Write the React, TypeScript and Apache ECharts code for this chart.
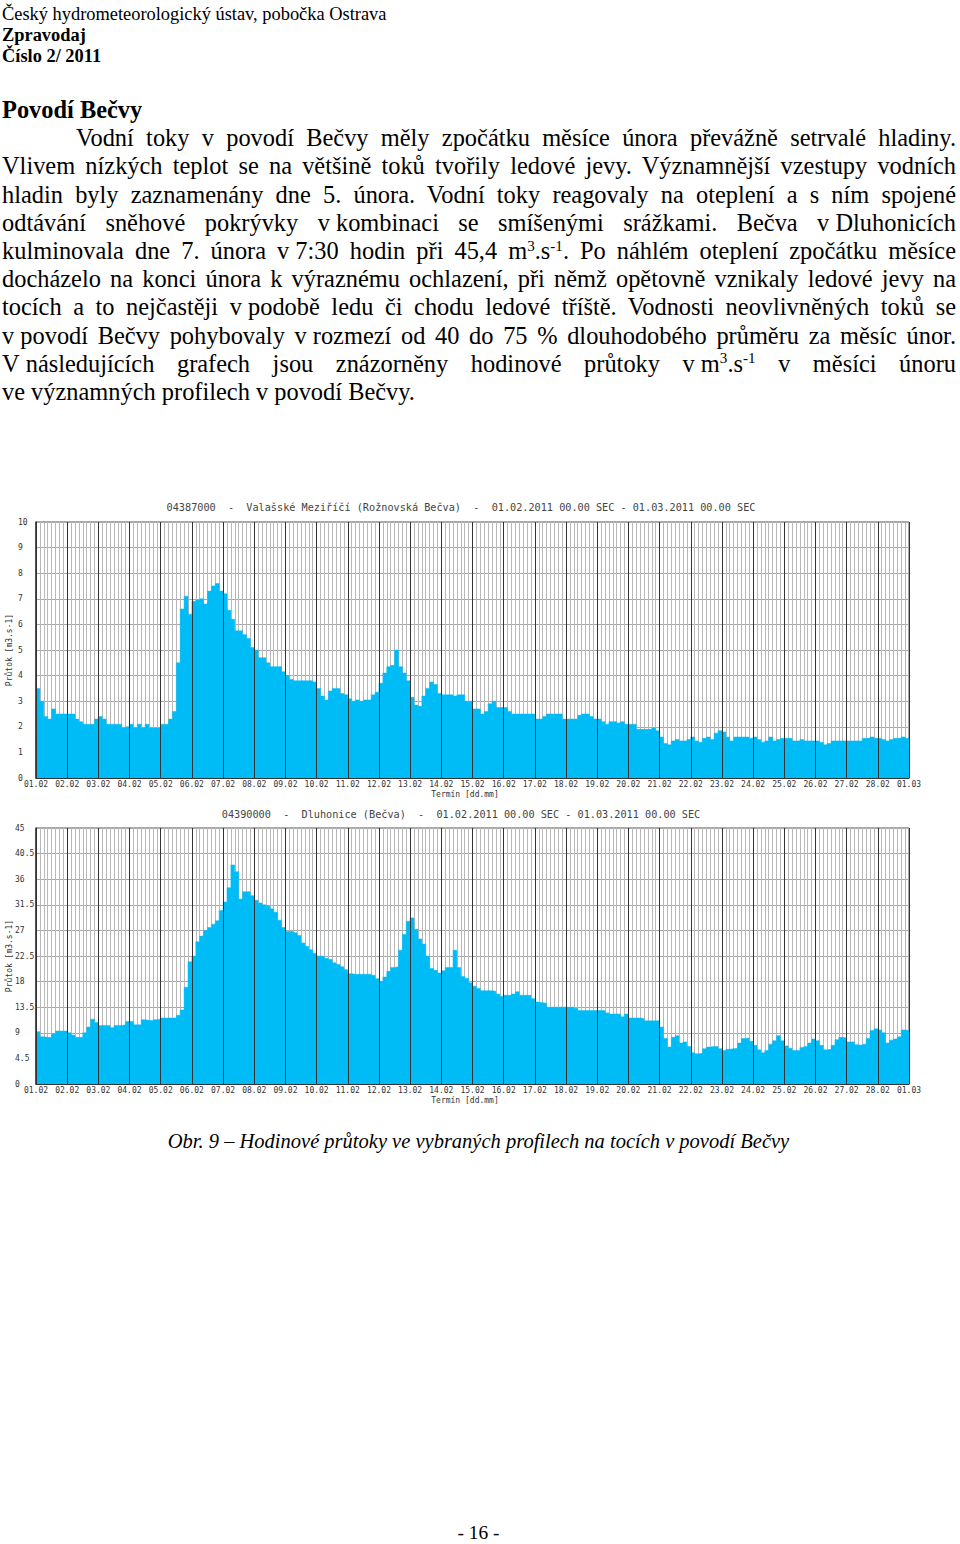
import React, { useEffect, useRef } from "react";
import * as echarts from "echarts";

const DAY_LABELS = [
  "01.02", "02.02", "03.02", "04.02", "05.02", "06.02", "07.02", "08.02", "09.02", "10.02",
  "11.02", "12.02", "13.02", "14.02", "15.02", "16.02", "17.02", "18.02", "19.02", "20.02",
  "21.02", "22.02", "23.02", "24.02", "25.02", "26.02", "27.02", "28.02", "01.03",
];

// 3-hourly discharge, Valašské Meziříčí (Rožnovská Bečva), m3/s
const VM_FLOW = [
  3.5, 3.0, 2.4, 2.3, 2.7, 2.5, 2.5, 2.5,
  2.5, 2.5, 2.3, 2.2, 2.1, 2.1, 2.1, 2.3,
  2.4, 2.3, 2.1, 2.1, 2.1, 2.1, 1.95, 2.0,
  2.1, 1.95, 2.1, 1.95, 2.1, 1.95, 1.95, 1.95,
  2.1, 2.1, 2.3, 2.6, 4.5, 6.6, 7.1, 6.4,
  6.9, 6.95, 7.0, 6.8, 7.3, 7.5, 7.6, 7.3,
  7.2, 6.55, 6.2, 5.75, 5.75, 5.6, 5.45, 5.1,
  5.0, 4.7, 4.7, 4.5, 4.35, 4.35, 4.35, 4.15,
  4.0, 3.85, 3.8, 3.8, 3.8, 3.8, 3.8, 3.75,
  3.5, 3.2, 3.05, 3.4, 3.5, 3.5, 3.3, 3.25,
  3.1, 3.0, 3.05, 3.0, 3.05, 3.05, 3.25, 3.35,
  3.7, 4.1, 4.35, 4.4, 5.0, 4.35, 4.1, 3.8,
  3.15, 2.85, 2.8, 3.2, 3.5, 3.75, 3.65, 3.3,
  3.25, 3.25, 3.25, 3.2, 3.25, 3.25, 3.0, 3.0,
  2.7, 2.7, 2.5, 2.6, 2.9, 3.0, 2.75, 2.75,
  2.75, 2.6, 2.5, 2.5, 2.5, 2.5, 2.5, 2.5,
  2.3, 2.3, 2.4, 2.5, 2.5, 2.5, 2.5, 2.3,
  2.3, 2.3, 2.3, 2.45, 2.5, 2.5, 2.4, 2.3,
  2.3, 2.2, 2.1, 2.2, 2.2, 2.15, 2.2, 2.1,
  2.1, 2.1, 1.9, 1.9, 1.9, 1.9, 1.95, 1.85,
  1.6, 1.35, 1.3, 1.45, 1.5, 1.45, 1.45, 1.5,
  1.6, 1.45, 1.4, 1.55, 1.6, 1.5, 1.75, 1.85,
  1.8, 1.6, 1.45, 1.6, 1.6, 1.6, 1.6, 1.55,
  1.6, 1.5, 1.4, 1.45, 1.6, 1.45, 1.5, 1.55,
  1.55, 1.55, 1.45, 1.45, 1.5, 1.45, 1.45, 1.45,
  1.45, 1.4, 1.3, 1.35, 1.45, 1.45, 1.45, 1.45,
  1.45, 1.45, 1.45, 1.45, 1.55, 1.55, 1.6, 1.55,
  1.55, 1.5, 1.45, 1.5, 1.55, 1.55, 1.6, 1.55,
];

// 3-hourly discharge, Dluhonice (Bečva), m3/s
const DL_FLOW = [
  9.2, 8.3, 8.2, 8.2, 8.8, 9.3, 9.3, 9.3,
  9.0, 8.6, 8.2, 8.2, 9.0, 10.0, 11.4, 10.8,
  10.3, 10.3, 10.3, 9.9, 10.3, 10.3, 10.4, 11.0,
  11.0, 10.4, 10.4, 11.3, 11.2, 11.1, 11.3, 11.4,
  11.6, 11.6, 11.6, 11.6, 12.1, 13.0, 17.0, 21.5,
  22.5, 25.0, 26.0, 27.0, 27.5, 28.1, 28.7, 30.5,
  32.0, 34.5, 38.5, 37.3, 32.5, 33.8, 33.8, 33.1,
  32.3, 31.8, 31.5, 31.3, 30.8, 30.2, 28.8, 27.5,
  26.8, 26.8, 26.6, 26.1, 24.8, 24.2, 23.6, 23.0,
  22.5, 22.4, 22.1, 21.9, 21.3, 21.0, 20.6, 20.1,
  19.4, 19.3, 19.3, 19.3, 19.3, 19.3, 19.1, 18.5,
  18.0, 18.8, 19.8, 20.5, 20.6, 23.5, 26.3, 28.6,
  29.2, 27.2, 25.5, 24.6, 22.5, 20.3, 20.0, 19.5,
  19.9, 20.5, 20.5, 23.5, 20.5, 18.9, 18.6, 17.8,
  17.2, 16.8, 16.4, 16.4, 16.4, 16.3, 15.8, 15.4,
  15.6, 15.6, 15.8, 16.2, 15.6, 15.6, 15.6, 15.0,
  14.4, 14.3, 14.2, 13.5, 13.5, 13.5, 13.5, 13.5,
  13.5, 13.5, 13.3, 12.9, 12.9, 12.9, 12.9, 12.9,
  12.9, 12.9, 12.5, 12.3, 12.3, 12.3, 11.8, 12.3,
  11.6, 11.6, 11.6, 11.5, 11.1, 11.1, 11.1, 11.1,
  10.0, 8.0, 6.5, 8.2, 8.5, 7.2, 7.4, 6.6,
  5.5, 5.3, 5.4, 6.2, 6.5, 6.6, 6.6, 6.2,
  5.9, 6.1, 6.2, 6.3, 7.2, 8.0, 8.1, 7.5,
  6.8, 6.0, 5.5, 5.9, 7.0, 7.6, 8.5, 7.6,
  6.7, 6.3, 5.9, 5.9, 6.4, 6.6, 7.2, 7.9,
  7.6, 6.8, 6.0, 6.1, 6.8, 7.8, 8.2, 8.1,
  7.4, 7.4, 6.9, 6.8, 7.0, 8.0, 9.4, 9.7,
  9.5, 9.0, 7.2, 7.7, 7.9, 8.3, 9.5, 9.4,
];

const VM_TITLE = "04387000  -  Valašské Meziříčí (Rožnovská Bečva)  -  01.02.2011 00.00 SEC - 01.03.2011 00.00 SEC";
const DL_TITLE = "04390000  -  Dluhonice (Bečva)  -  01.02.2011 00.00 SEC - 01.03.2011 00.00 SEC";
const Y_NAME = "Průtok [m3.s-1]";
const X_NAME = "Termín [dd.mm]";

const MONO = '"DejaVu Sans Mono", "Liberation Mono", monospace';
const FILL = "#00bcf6";

function toSteps(vals: number[]) {
  const pts: number[][] = vals.map((v, i) => [i / 8, v]);
  pts.push([28, vals[vals.length - 1]]);
  return pts;
}

function xAxisFor(gridIndex: number) {
  return {
    type: "value",
    gridIndex,
    min: 0,
    max: 28,
    interval: 1,
    axisLine: { show: true, lineStyle: { color: "#333", width: 1 } },
    axisTick: { show: false },
    minorTick: { show: true, splitNumber: 8, length: 0 },
    minorSplitLine: { show: true, lineStyle: { color: "#b8b8b8", width: 1 } },
    splitLine: { show: false },
    axisLabel: {
      formatter: (v: number) => DAY_LABELS[Math.round(v)] ?? "",
      fontSize: 8,
      fontFamily: MONO,
      color: "#333",
      margin: 2,
      showMinLabel: true,
      showMaxLabel: true,
    },
    name: X_NAME,
    nameLocation: "middle",
    nameGap: 12,
    nameMoveOverlap: false,
    nameTextStyle: { fontSize: 8, fontFamily: MONO, color: "#333", padding: [0, 15, 0, 0] },
  };
}

function yAxisFor(gridIndex: number, max: number, interval: number, labelMargin: number) {
  return {
    type: "value",
    gridIndex,
    min: 0,
    max,
    interval,
    axisLine: { show: true, lineStyle: { color: "#333", width: 1.5 } },
    axisTick: { show: false },
    splitLine: { show: true, lineStyle: { color: "#a8a8a8", width: 1 } },
    axisLabel: { fontSize: 8, fontFamily: MONO, color: "#333", margin: labelMargin, align: "left" },
    name: Y_NAME,
    nameLocation: "middle",
    nameGap: 23,
    nameMoveOverlap: false,
    nameTextStyle: { fontSize: 8, fontFamily: MONO, color: "#333" },
  };
}

function seriesFor(idx: number, vals: number[]) {
  return {
    type: "line",
    xAxisIndex: idx,
    yAxisIndex: idx,
    step: "end",
    symbol: "none",
    data: toSteps(vals),
    lineStyle: { color: FILL, width: 0.5 },
    areaStyle: { color: FILL, opacity: 1 },
    markLine: {
      silent: true,
      symbol: ["none", "none"],
      label: { show: false },
      lineStyle: { color: "#333", width: 1, type: "solid" },
      data: DAY_LABELS.map((_, d) => ({ xAxis: d })),
    },
  };
}

function Charts() {
  const ref = useRef<HTMLDivElement>(null);
  useEffect(() => {
    if (!ref.current) return;
    const chart = echarts.init(ref.current, undefined, { renderer: "svg" });
    chart.setOption({
      animation: false,
      title: [
        {
          text: VM_TITLE,
          left: 456,
          top: 497,
          textAlign: "center",
          textStyle: { fontSize: 10.2, fontFamily: MONO, fontWeight: "normal", color: "#444" },
        },
        {
          text: DL_TITLE,
          left: 456,
          top: 804,
          textAlign: "center",
          textStyle: { fontSize: 10.2, fontFamily: MONO, fontWeight: "normal", color: "#444" },
        },
      ],
      grid: [
        {
          left: 36, top: 522, width: 873, height: 256, show: true, borderColor: "#555", borderWidth: 1,
          containLabel: false, outerBoundsMode: "none",
        },
        {
          left: 36, top: 828, width: 873, height: 256, show: true, borderColor: "#555", borderWidth: 1,
          containLabel: false, outerBoundsMode: "none",
        },
      ],
      xAxis: [xAxisFor(0), xAxisFor(1)],
      yAxis: [yAxisFor(0, 10, 1, 18), yAxisFor(1, 45, 4.5, 21)],
      series: [seriesFor(0, VM_FLOW), seriesFor(1, DL_FLOW)],
    });
    return () => chart.dispose();
  }, []);
  return (
    <div
      ref={ref}
      style={{ position: "absolute", left: 0, top: 0, width: 960, height: 1544 }}
    />
  );
}

const SUP: React.CSSProperties = {
  fontSize: "0.62em",
  position: "relative",
  top: "-0.55em",
};
const NB: React.CSSProperties = { display: "inline-block" };
const JL: React.CSSProperties = {
  textAlign: "justify",
  textAlignLast: "justify",
  height: "28.2px",
};

export default function App() {
  return (
    <div
      style={{
        position: "absolute",
        left: 0,
        top: 0,
        width: 960,
        height: 1544,
        overflow: "hidden",
        background: "#fff",
        fontFamily: '"Liberation Serif", "Times New Roman", serif',
        color: "#000",
      }}
    >
      <Charts />
      <div style={{ position: "absolute", left: 2, top: 4, fontSize: 18.4, lineHeight: "21px" }}>
        <div>Český hydrometeorologický ústav, pobočka Ostrava</div>
        <div style={{ fontWeight: "bold" }}>Zpravodaj</div>
        <div style={{ fontWeight: "bold" }}>Číslo 2/ 2011</div>
      </div>
      <div
        style={{
          position: "absolute",
          left: 2,
          top: 96,
          width: 954,
          fontSize: 24.4,
          lineHeight: "28.2px",
        }}
      >
        <div style={{ fontWeight: "bold", height: "28.2px" }}>Povodí Bečvy</div>
        <div style={{ ...JL, paddingLeft: 74 }}>
          Vodní toky v povodí Bečvy měly zpočátku měsíce února převážně setrvalé hladiny.
        </div>
        <div style={JL}>
          Vlivem nízkých teplot se na většině toků tvořily ledové jevy. Významnější vzestupy vodních
        </div>
        <div style={JL}>
          hladin byly zaznamenány dne 5. února. Vodní toky reagovaly na oteplení a s ním spojené
        </div>
        <div style={JL}>
          odtávání sněhové pokrývky <span style={NB}>{"v\u00a0kombinaci"}</span> se smíšenými srážkami. Bečva{" "}
          <span style={NB}>{"v\u00a0Dluhonicích"}</span>
        </div>
        <div style={JL}>
          kulminovala dne 7. února <span style={NB}>{"v\u00a07:30"}</span> hodin při 45,4 m<span style={SUP}>3</span>.s
          <span style={SUP}>-1</span>. Po náhlém oteplení zpočátku měsíce
        </div>
        <div style={JL}>
          docházelo na konci února k výraznému ochlazení, při němž opětovně vznikaly ledové jevy na
        </div>
        <div style={JL}>
          tocích a to nejčastěji <span style={NB}>{"v\u00a0podobě"}</span> ledu či chodu ledové tříště. Vodnosti neovlivněných toků se
        </div>
        <div style={JL}>
          <span style={NB}>{"v\u00a0povodí"}</span> Bečvy pohybovaly <span style={NB}>{"v\u00a0rozmezí"}</span> od 40 do 75 % dlouhodobého průměru za měsíc únor.
        </div>
        <div style={JL}>
          <span style={NB}>{"V\u00a0následujících"}</span> grafech jsou znázorněny hodinové průtoky{" "}
          <span style={NB}>
            {"v\u00a0m"}
            <span style={SUP}>3</span>.s<span style={SUP}>-1</span>
          </span>{" "}
          v měsíci únoru
        </div>
        <div style={{ height: "28.2px" }}>
          ve významných profilech <span>{"v\u00a0povodí"}</span> Bečvy.
        </div>
      </div>
      <div
        style={{
          position: "absolute",
          left: 0,
          top: 1130,
          width: 957,
          textAlign: "center",
          fontStyle: "italic",
          fontSize: 20.5,
          lineHeight: "22px",
        }}
      >
        Obr. 9 – Hodinové průtoky ve vybraných profilech na tocích v povodí Bečvy
      </div>
      <div
        style={{
          position: "absolute",
          left: 0,
          top: 1522,
          width: 957,
          textAlign: "center",
          fontSize: 19.4,
          lineHeight: "22px",
        }}
      >
        - 16 -
      </div>
    </div>
  );
}
